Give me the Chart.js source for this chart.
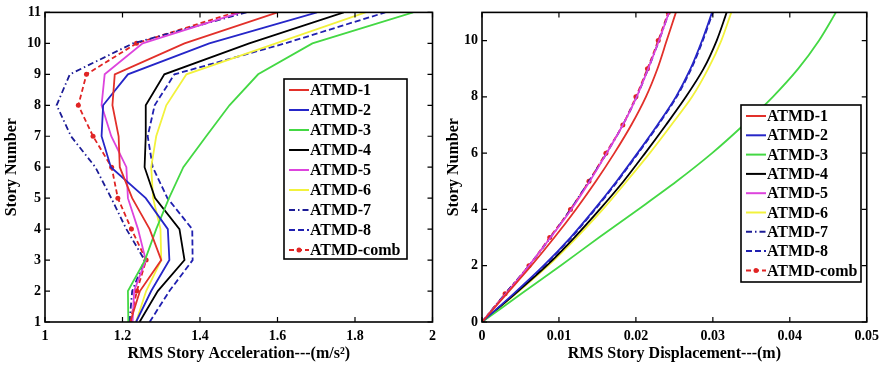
<!DOCTYPE html>
<html>
<head>
<meta charset="utf-8">
<script src="https://cdn.jsdelivr.net/npm/chart.js@4.4.0/dist/chart.umd.min.js"></script>
<style>
body{margin:0;background:#fff;}
#wrap{position:relative;width:885px;height:370px;}
.box{position:absolute;top:0;height:370px;}
</style>
</head>
<body>
<div id="wrap">
  <div class="box" style="left:0;width:442px"><canvas id="accChart"></canvas></div>
  <div class="box" style="left:442px;width:443px"><canvas id="dispChart"></canvas></div>
</div>
<script>
// story numbers
const accStories = [1, 2, 3, 4, 5, 6, 7, 8, 9, 10, 11];
const dispStories = [0, 1, 2, 3, 4, 5, 6, 7, 8, 9, 10, 11];

const names = ['ATMD-1', 'ATMD-2', 'ATMD-3', 'ATMD-4', 'ATMD-5', 'ATMD-6', 'ATMD-7', 'ATMD-8', 'ATMD-comb'];

// RMS story acceleration (m/s^2), story 1..11
const acc1 = [1.220, 1.245, 1.300, 1.270, 1.225, 1.193, 1.190, 1.174, 1.180, 1.360, 1.600];
const acc2 = [1.235, 1.274, 1.321, 1.317, 1.260, 1.170, 1.146, 1.150, 1.214, 1.424, 1.702];
const acc3 = [1.215, 1.214, 1.258, 1.287, 1.320, 1.357, 1.416, 1.476, 1.550, 1.690, 1.950];
const acc4 = [1.244, 1.291, 1.360, 1.347, 1.284, 1.257, 1.260, 1.260, 1.308, 1.527, 1.771];
const acc5 = [1.226, 1.230, 1.260, 1.240, 1.214, 1.210, 1.171, 1.146, 1.154, 1.252, 1.505];
const acc6 = [1.235, 1.261, 1.300, 1.298, 1.279, 1.274, 1.287, 1.313, 1.365, 1.596, 1.827];
const acc7 = [1.218, 1.225, 1.257, 1.210, 1.171, 1.130, 1.067, 1.030, 1.064, 1.227, 1.520];
const acc8 = [1.270, 1.321, 1.381, 1.380, 1.316, 1.278, 1.265, 1.283, 1.334, 1.620, 1.878];
const accC = [1.220, 1.237, 1.261, 1.223, 1.188, 1.172, 1.124, 1.086, 1.107, 1.236, 1.490];

// RMS story displacement (m), story 0..11
const disp1 = [0, 0.0032, 0.0064, 0.0094, 0.0122, 0.0148, 0.0172, 0.0194, 0.0213, 0.0228, 0.0240, 0.0252];
const disp2 = [0, 0.0041, 0.0080, 0.0115, 0.0146, 0.0175, 0.0202, 0.0228, 0.0252, 0.0271, 0.0286, 0.0299];
const disp3 = [0, 0.0051, 0.0102, 0.0152, 0.0203, 0.0253, 0.0299, 0.0340, 0.0378, 0.0411, 0.0438, 0.0460];
const disp4 = [0, 0.0043, 0.0084, 0.0120, 0.0153, 0.0184, 0.0212, 0.0239, 0.0265, 0.0288, 0.0305, 0.0318];
const disp5 = [0, 0.0031, 0.0061, 0.0089, 0.0116, 0.0140, 0.0162, 0.0183, 0.0201, 0.0216, 0.0230, 0.0243];
const disp6 = [0, 0.0044, 0.0086, 0.0123, 0.0157, 0.0188, 0.0218, 0.0246, 0.0273, 0.0294, 0.0311, 0.0324];
const disp7 = [0, 0.0030, 0.0061, 0.0089, 0.0115, 0.0139, 0.0162, 0.0183, 0.0201, 0.0216, 0.0230, 0.0243];
const disp8 = [0, 0.0042, 0.0081, 0.0116, 0.0147, 0.0176, 0.0203, 0.0229, 0.0253, 0.0272, 0.0287, 0.0300];
const dispC = [0, 0.0030, 0.0061, 0.0088, 0.0115, 0.0139, 0.0161, 0.0183, 0.0200, 0.0215, 0.0229, 0.0242];

const accSeries = [acc1, acc2, acc3, acc4, acc5, acc6, acc7, acc8, accC];
const dispSeries = [disp1, disp2, disp3, disp4, disp5, disp6, disp7, disp8, dispC];

// line look for each ATMD case
const colors = ['#e2302a', '#2626c8', '#44d844', '#000000', '#dd44dd', '#f2f23c', '#1c1c96', '#2020b0', '#e02424'];
const dashes = [[], [], [], [], [], [], [6, 3, 1.5, 3], [6, 3], [5, 3]];

const serif = '"Liberation Serif", "Times New Roman", serif';

// box frame + inward ticks, matlab style
const framePlugin = {
    id: 'frame',
    afterDraw(chart) {
        const ctx = chart.ctx;
        const a = chart.chartArea;
        const xs = chart.scales.x;
        const ys = chart.scales.y;
        ctx.save();
        ctx.strokeStyle = '#000';
        ctx.lineWidth = 1.6;
        ctx.strokeRect(a.left, a.top, a.right - a.left, a.bottom - a.top);
        ctx.lineWidth = 1.2;
        ctx.beginPath();
        xs.ticks.forEach(function (t) {
            var px = xs.getPixelForValue(t.value);
            ctx.moveTo(px, a.bottom); ctx.lineTo(px, a.bottom - 5);
            ctx.moveTo(px, a.top); ctx.lineTo(px, a.top + 5);
        });
        ys.ticks.forEach(function (t) {
            var py = ys.getPixelForValue(t.value);
            ctx.moveTo(a.left, py); ctx.lineTo(a.left + 5, py);
            ctx.moveTo(a.right, py); ctx.lineTo(a.right - 5, py);
        });
        ctx.stroke();
        ctx.restore();
    }
};

// legend drawn inside the plot
const boxLegend = {
    id: 'boxLegend',
    afterDraw(chart, args, opts) {
        const ctx = chart.ctx;
        ctx.save();
        ctx.fillStyle = '#fff';
        ctx.fillRect(opts.x, opts.y, opts.w, opts.h);
        ctx.strokeStyle = '#000';
        ctx.lineWidth = 1.6;
        ctx.strokeRect(opts.x, opts.y, opts.w, opts.h);
        ctx.font = 'bold 16px ' + serif;
        ctx.textBaseline = 'middle';
        for (var i = 0; i < names.length; i++) {
            var ly = opts.y + opts.first + i * opts.step;
            var lx = opts.x + 5;
            ctx.strokeStyle = colors[i];
            ctx.lineWidth = 2;
            ctx.setLineDash(dashes[i]);
            ctx.beginPath();
            ctx.moveTo(lx, ly); ctx.lineTo(lx + 20, ly);
            ctx.stroke();
            ctx.setLineDash([]);
            if (i === 8) {
                ctx.fillStyle = colors[i];
                ctx.beginPath();
                ctx.arc(lx + 10, ly, 2.5, 0, Math.PI * 2);
                ctx.fill();
            }
            ctx.fillStyle = '#000';
            ctx.fillText(names[i], lx + 21, ly + 1);
        }
        ctx.restore();
    }
};

function buildSets(series, stories, tension) {
    return series.map(function (vals, i) {
        return {
            label: names[i],
            data: vals.map(function (v, k) { return { x: v, y: stories[k] }; }),
            showLine: true,
            borderColor: colors[i],
            backgroundColor: colors[i],
            borderWidth: 1.8,
            borderDash: dashes[i],
            pointRadius: i === 8 ? 2.5 : 0,
            pointBorderWidth: 0,
            tension: tension
        };
    });
}

function makeChart(id, sets, cfg) {
    new Chart(document.getElementById(id), {
        type: 'scatter',
        data: { datasets: sets },
        plugins: [framePlugin, boxLegend],
        options: {
            responsive: true,
            maintainAspectRatio: false,
            animation: false,
            layout: { padding: cfg.padding },
            plugins: {
                legend: { display: false },
                tooltip: { enabled: false },
                boxLegend: cfg.legend
            },
            scales: {
                x: {
                    type: 'linear',
                    min: cfg.xmin, max: cfg.xmax,
                    grid: { display: false, drawTicks: false },
                    border: { display: false },
                    afterFit: function (s) { s.height = 48; },
                    ticks: {
                        stepSize: cfg.xstep,
                        padding: 6,
                        color: '#000',
                        font: { family: serif, size: 14, weight: 'bold' },
                        callback: cfg.xfmt
                    },
                    title: {
                        display: true,
                        text: cfg.xtitle,
                        color: '#000',
                        padding: { top: 0, bottom: 7 },
                        font: { family: serif, size: 16, weight: 'bold' }
                    }
                },
                y: {
                    type: 'linear',
                    min: cfg.ymin, max: 11,
                    grid: { display: false, drawTicks: false },
                    border: { display: false },
                    afterFit: function (s) { s.width = cfg.yw; },
                    afterBuildTicks: function (s) {
                        s.ticks = s.ticks.filter(function (t) { return cfg.yshow(t.value); });
                    },
                    ticks: {
                        stepSize: 1,
                        padding: 4,
                        color: '#000',
                        font: { family: serif, size: 14, weight: 'bold' }
                    },
                    title: {
                        display: true,
                        text: 'Story Number',
                        color: '#000',
                        padding: { top: 2, bottom: 0 },
                        font: { family: serif, size: 16, weight: 'bold' }
                    }
                }
            }
        }
    });
}

makeChart('accChart', buildSets(accSeries, accStories, 0), {
    padding: { top: 11, right: 8, left: 0, bottom: 0 },
    xmin: 1, xmax: 2, xstep: 0.2, ymin: 1, yw: 45,
    yshow: function (v) { return true; },
    xfmt: function (v) { return String(Math.round(v * 10) / 10); },
    xtitle: 'RMS Story Acceleration---(m/s²)',
    legend: { x: 284, y: 79, w: 123, h: 180, first: 11, step: 20 }
});

makeChart('dispChart', buildSets(dispSeries, dispStories, 0.3), {
    padding: { top: 11, right: 15, left: 0, bottom: 0 },
    xmin: 0, xmax: 0.05, xstep: 0.01, ymin: 0, yw: 40,
    yshow: function (v) { return v % 2 === 0; },
    xfmt: function (v) { return String(Math.round(v * 100) / 100); },
    xtitle: 'RMS Story Displacement---(m)',
    legend: { x: 299, y: 105, w: 120, h: 177, first: 11, step: 19.3 }
});
</script>
</body>
</html>
